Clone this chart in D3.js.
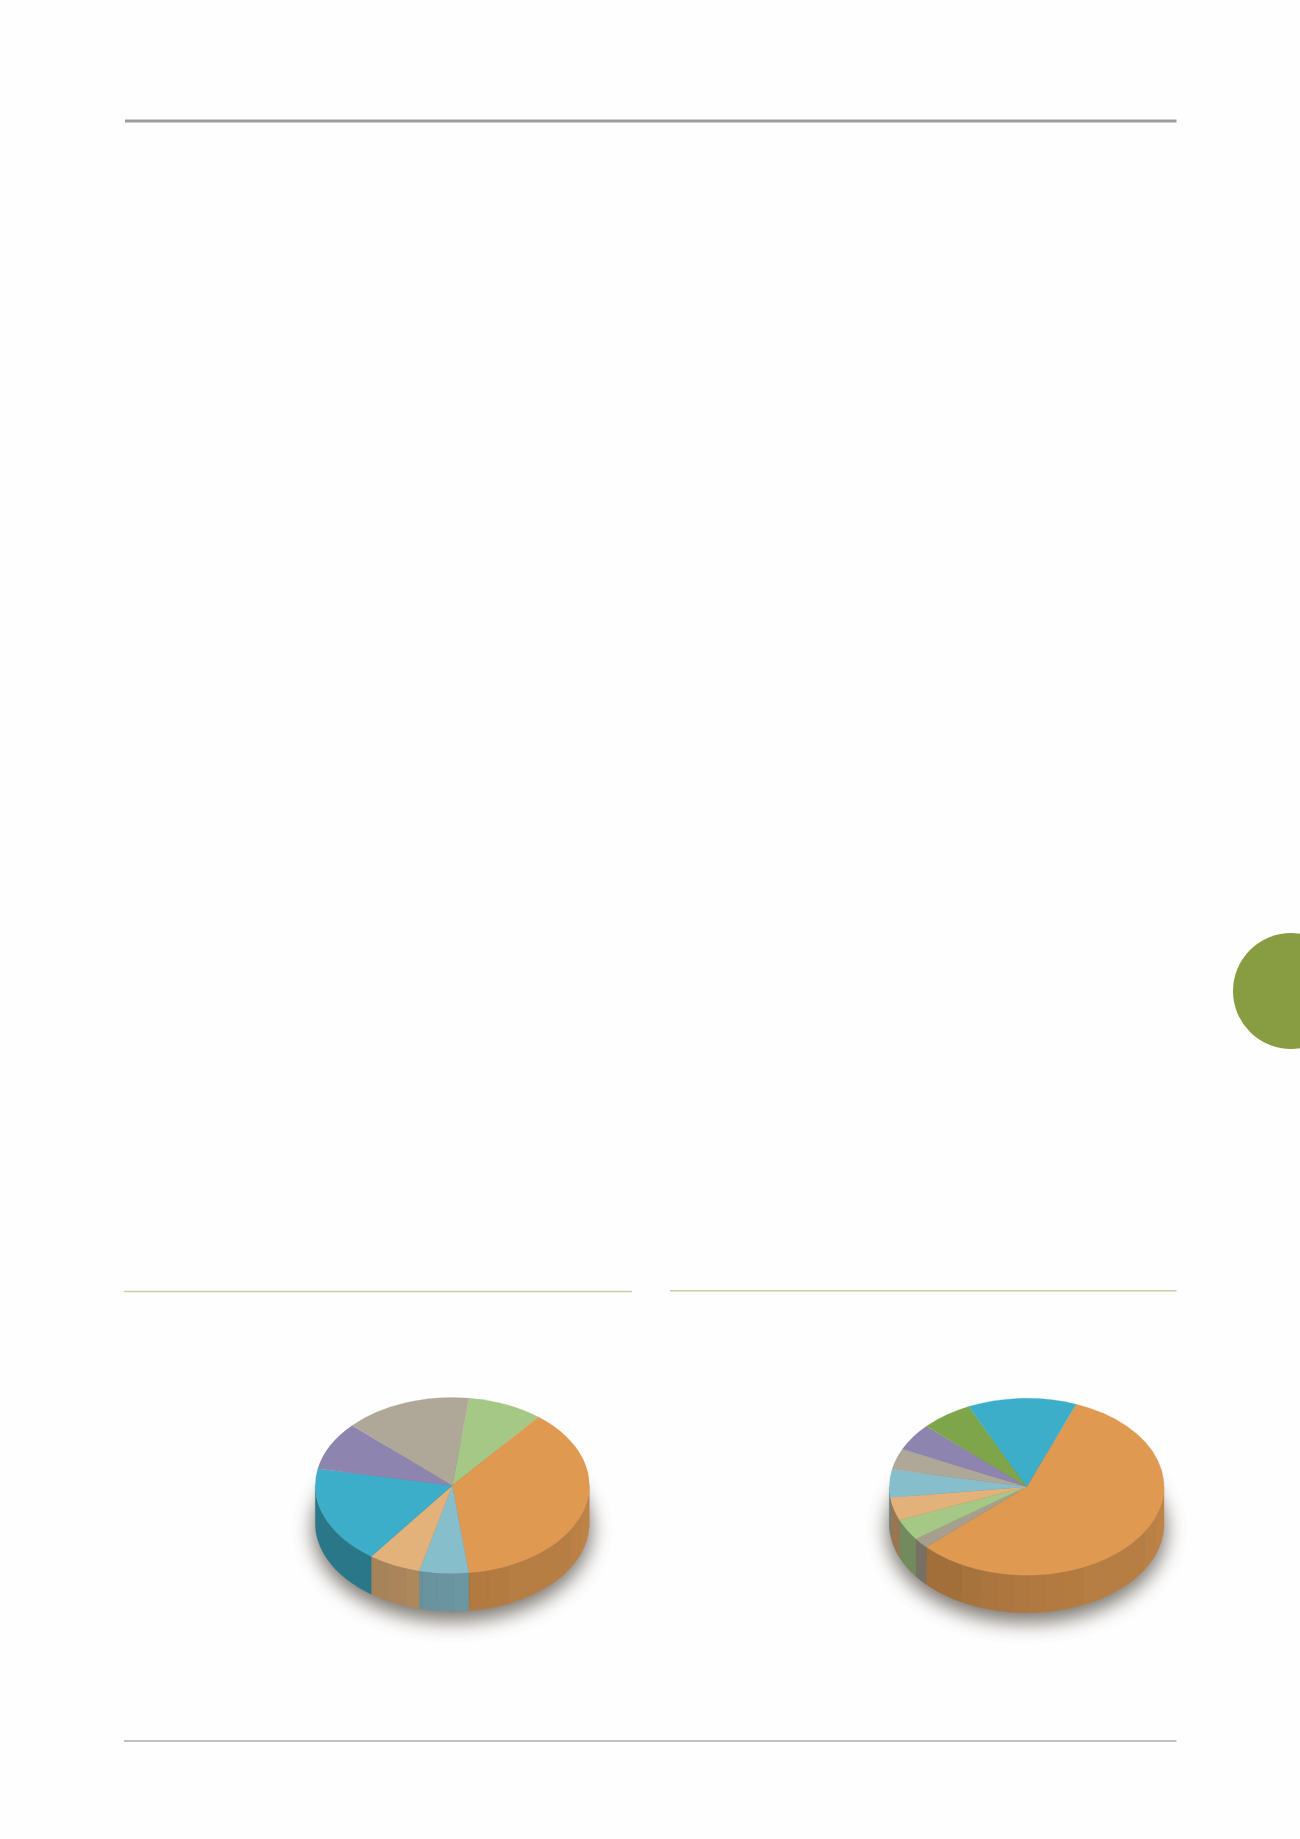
<!DOCTYPE html>
<html>
<head>
<meta charset="utf-8">
<script src="https://cdn.jsdelivr.net/npm/d3@7"></script>
<style>
  body { margin: 0; background: #fefefe; }
  svg { display: block; }
</style>
</head>
<body>
<svg width="1300" height="1839"></svg>
<script>
// shares, clockwise from the first slice
const leftCategories = ["green", "orange", "lightblue", "peach", "blue", "purple", "tan"];
const leftValues = [8.9, 37.3, 5.8, 6.2, 18.0, 8.9, 15.0];
const rightCategories = ["orange", "gray", "green", "peach", "lightblue", "tan", "purple", "olive", "blue"];
const rightValues = [57.2, 1.9, 3.9, 4.2, 5.1, 3.8, 5.0, 6.1, 12.8];

const colorNames = ["green", "orange", "lightblue", "peach", "blue", "purple", "tan", "gray", "olive"];
const colorValues = ["#a5c886", "#df9951", "#87becc", "#e3b27a", "#3daec9", "#8d84b0", "#afa899", "#a89e8e", "#7fa54b"];

// the side wall is cut in strips at these angles (degrees, 180 = front)
const wallStrips = [102, 111, 121, 156, 165, 172.6, 179.5, 186, 192.6, 200, 208.7];

const svg = d3.select("svg");
const color = d3.scaleOrdinal().domain(colorNames).range(colorValues);
const wallShade = d3.scaleLinear().domain([90, 180, 270]).range([0.86, 0.79, 0.64]);
const rad = Math.PI / 180;

let defs = svg.append("defs");
defs.append("filter").attr("id", "blur")
    .attr("x", "-30%").attr("y", "-30%").attr("width", "160%").attr("height", "160%")
    .append("feGaussianBlur").attr("stdDeviation", 10);

// page furniture
function rule(x1, x2, y, stroke, w) {
    svg.append("line")
        .attr("x1", x1).attr("x2", x2)
        .attr("y1", y).attr("y2", y)
        .attr("stroke", stroke)
        .attr("stroke-width", w);
}
rule(125, 1176.5, 121, "#9c9c9c", 3);
rule(124, 632, 1291.5, "#c5d19e", 1.5);
rule(670, 1176.5, 1290.7, "#c5d19e", 1.5);
rule(124, 1176.5, 1741, "#c0c0c0", 2);

svg.append("circle")
    .attr("cx", 1291).attr("cy", 991).attr("r", 58)
    .attr("fill", "#889d41");

function wallColor(d) {
    let c = d3.rgb(color(d.cat));
    let k = wallShade((d.from + d.to) / 2);
    return d3.rgb(c.r * k, c.g * k, c.b * k).formatHex();
}

function drawPie(categories, values, startDeg, cx, cy, rx, ry, depth) {
    let g = svg.append("g");
    let slices = d3.pie().sort(null)
        .startAngle(startDeg * rad)
        .endAngle((startDeg + 360) * rad)(values);

    // shadow under the disc
    g.append("ellipse")
        .attr("cx", cx).attr("cy", cy + depth + 6)
        .attr("rx", rx + 2).attr("ry", ry + 4)
        .attr("fill", "#5a5348")
        .attr("opacity", 0.8)
        .attr("filter", "url(#blur)");

    // side wall, only the front half shows
    let strips = [];
    slices.forEach((s, i) => {
        let a0 = Math.max(s.startAngle / rad, 90);
        let a1 = Math.min(s.endAngle / rad, 270);
        if (a1 <= a0) return;
        let cuts = [a0].concat(wallStrips.filter(a => a > a0 && a < a1), [a1]);
        d3.pairs(cuts).forEach(p => strips.push({ from: p[0], to: p[1], cat: categories[i] }));
    });
    let wall = d3.area()
        .x(a => cx + rx * Math.sin(a * rad))
        .y0(a => cy - ry * Math.cos(a * rad))
        .y1(a => cy - ry * Math.cos(a * rad) + depth);
    g.selectAll("path.wall").data(strips).enter().append("path")
        .attr("class", "wall")
        .attr("d", d => wall(d3.range(d.from, d.to, 1).concat([d.to])))
        .attr("fill", wallColor)
        .attr("stroke", wallColor)
        .attr("stroke-width", 0.3);

    // top face: circular arcs squashed into an ellipse
    let arc = d3.arc().innerRadius(0).outerRadius(rx);
    g.append("g")
        .attr("transform", "translate(" + cx + "," + cy + ") scale(1," + (ry / rx) + ")")
        .selectAll("path").data(slices).enter().append("path")
        .attr("d", arc)
        .attr("fill", (d, i) => color(categories[i]))
        .attr("stroke", (d, i) => color(categories[i]))
        .attr("stroke-width", 0.3);
}

drawPie(leftCategories, leftValues, 7, 452.3, 1485.5, 137, 88, 37.7);
drawPie(rightCategories, rightValues, 21.1, 1026.7, 1486.7, 137.3, 88.5, 37.4);
</script>
</body>
</html>
